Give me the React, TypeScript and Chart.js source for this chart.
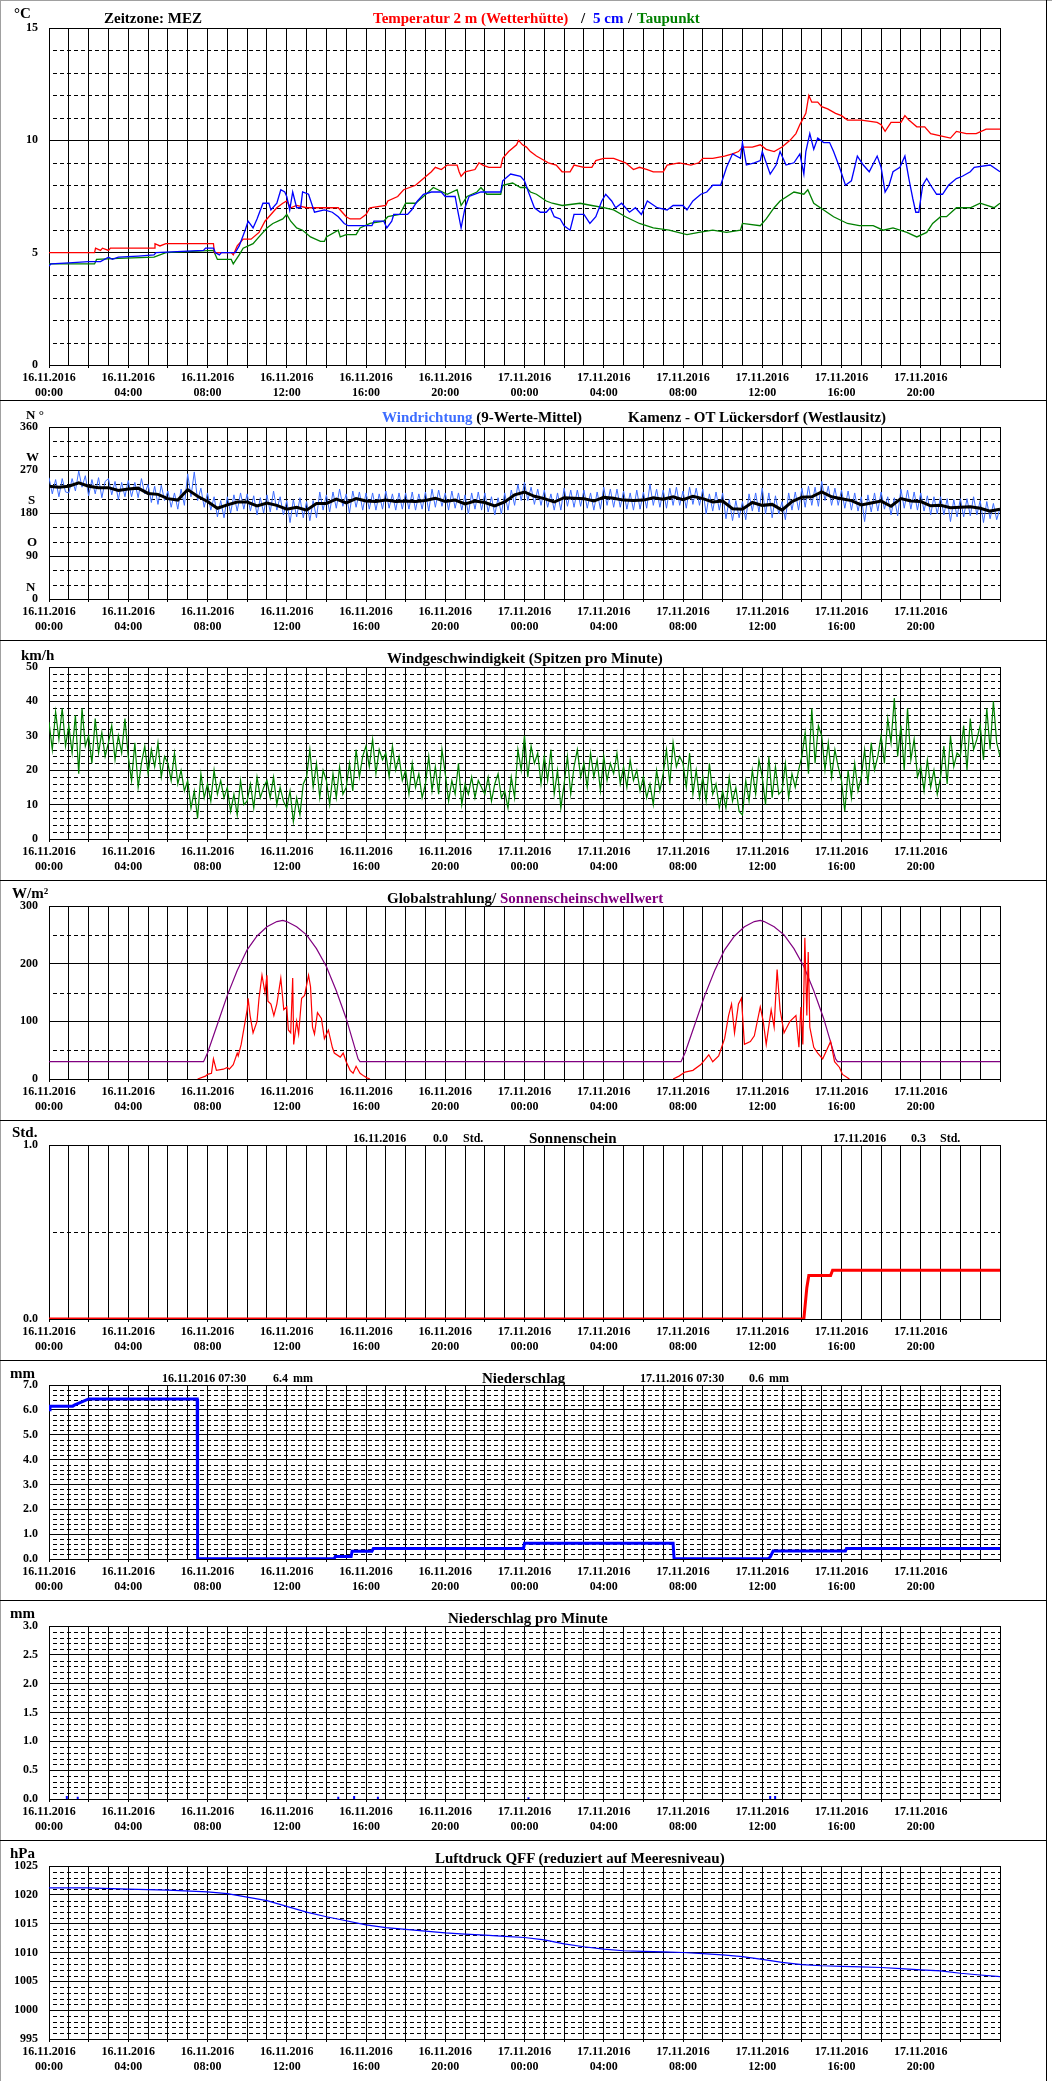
import React, { useEffect, useRef } from 'react';
import { Chart, registerables } from 'chart.js';

Chart.register(...registerables);

const FONT = "'Liberation Serif', 'Times New Roman', serif";

// ---------- time axis ----------
const DATE_LABELS = ['16.11.2016', '17.11.2016'];
const TIME_LABELS = ['00:00', '04:00', '08:00', '12:00', '16:00', '20:00'];

// ---------- temperature [hour, °C] ----------
const TEMP_2M: [number, number][] = [
  [0, 5.0], [2.3, 5.0], [2.35, 5.2], [2.6, 5.1], [2.7, 5.2], [3.0, 5.1], [3.1, 5.2], [5.3, 5.2], [5.35, 5.4], [5.6, 5.3], [5.9, 5.4],
  [8.3, 5.4], [8.35, 5.0], [9.2, 5.0], [9.3, 4.9], [9.5, 5.3], [9.8, 5.6], [10.2, 5.6], [10.6, 5.9], [10.9, 6.4], [11.2, 6.7],
  [11.5, 7.0], [11.8, 7.2], [12.0, 7.3], [12.2, 7.0], [12.5, 7.1], [13.0, 7.0], [14.6, 7.0], [14.8, 6.8], [15.0, 6.6], [15.2, 6.5],
  [15.7, 6.5], [16.0, 6.7], [16.2, 7.0], [17.0, 7.1], [17.1, 7.3], [17.6, 7.5], [17.9, 7.8], [18.5, 8.0], [18.9, 8.3], [19.3, 8.6],
  [19.5, 8.8], [19.8, 8.7], [20.1, 8.9], [20.6, 8.9], [20.7, 8.6], [20.8, 8.4], [21.0, 8.6], [21.5, 8.7], [21.7, 9.0], [21.9, 8.9],
  [22.2, 8.8], [22.8, 8.8], [22.9, 9.2], [23.2, 9.5], [23.6, 9.8], [23.7, 10.0], [23.9, 9.8], [24.1, 9.7], [24.3, 9.5], [24.6, 9.3],
  [25.0, 9.1], [25.2, 9.0], [25.6, 8.9], [25.9, 8.6], [26.3, 8.6], [26.5, 8.9], [27.0, 8.8], [27.4, 8.8], [27.6, 9.1], [28.0, 9.2],
  [28.5, 9.2], [29.1, 9.0], [29.5, 8.7], [29.8, 8.8], [30.2, 8.7], [30.5, 8.6], [31.0, 8.6], [31.2, 8.9], [31.8, 9.0], [32.4, 8.9],
  [32.8, 9.0], [33.0, 9.2], [33.5, 9.2], [34.1, 9.3], [34.5, 9.4], [34.8, 9.5], [35.0, 9.7], [35.5, 9.7], [35.9, 9.8], [36.2, 9.6],
  [36.6, 9.5], [37.0, 9.7], [37.4, 10.0], [37.7, 10.3], [37.9, 10.7], [38.2, 11.2], [38.35, 12.0], [38.5, 11.7], [38.8, 11.7],
  [39.0, 11.5], [39.3, 11.4], [39.7, 11.2], [40.0, 11.1], [40.3, 10.9], [41.0, 10.9], [41.8, 10.8], [42.0, 10.7], [42.2, 10.4],
  [42.5, 10.8], [43.0, 10.8], [43.2, 11.1], [43.4, 10.9], [43.8, 10.6], [44.2, 10.6], [44.5, 10.3], [45.0, 10.2], [45.5, 10.1],
  [45.8, 10.4], [46.3, 10.3], [46.8, 10.3], [47.3, 10.5], [47.6, 10.5], [48, 10.5],
];

const TEMP_5CM: [number, number][] = [
  [0, 4.4], [0.1, 4.5], [1.0, 4.55], [2.0, 4.6], [2.6, 4.6], [3.0, 4.8], [3.2, 4.7], [3.5, 4.8], [4.5, 4.85], [5.3, 4.9], [5.4, 5.0],
  [7.8, 5.1], [7.9, 5.2], [8.3, 5.2], [8.4, 5.0], [8.6, 4.9], [8.7, 5.0], [9.4, 5.0], [9.6, 5.3], [9.9, 6.0], [10.05, 6.4], [10.3, 6.1],
  [10.5, 6.5], [10.8, 7.2], [11.1, 7.2], [11.2, 6.9], [11.5, 7.2], [11.7, 7.8], [11.9, 7.7], [12.0, 7.5], [12.15, 6.9], [12.3, 7.7],
  [12.5, 7.0], [12.7, 7.0], [12.8, 7.7], [13.1, 7.6], [13.25, 7.2], [13.4, 6.8], [13.9, 6.9], [14.3, 6.8], [14.6, 6.6], [14.9, 6.3],
  [15.1, 6.2], [16.3, 6.2], [16.4, 6.4], [16.9, 6.4], [17.05, 6.1], [17.3, 6.4], [17.4, 6.7], [18.1, 6.7], [18.3, 6.9], [18.6, 7.3],
  [18.9, 7.6], [19.3, 7.7], [19.8, 7.7], [20.0, 7.5], [20.5, 7.5], [20.6, 7.0], [20.8, 6.1], [21.0, 7.0], [21.2, 7.5], [21.8, 7.7],
  [22.8, 7.7], [22.9, 8.2], [23.3, 8.5], [23.8, 8.4], [24.0, 8.2], [24.2, 7.7], [24.5, 7.0], [24.8, 6.8], [25.1, 6.8], [25.3, 7.0],
  [25.5, 6.6], [25.8, 6.5], [26.0, 6.2], [26.3, 6.0], [26.5, 6.7], [27.0, 6.7], [27.3, 6.3], [27.6, 6.6], [27.9, 7.3], [28.1, 7.6],
  [28.4, 7.3], [28.6, 7.0], [28.9, 7.2], [29.3, 6.8], [29.6, 7.0], [29.9, 6.7], [30.2, 7.3], [30.7, 7.0], [31.2, 6.9], [31.5, 7.1],
  [32.0, 7.1], [32.2, 6.9], [32.5, 7.3], [32.9, 7.6], [33.2, 7.7], [33.5, 8.0], [33.9, 8.0], [34.2, 8.8], [34.5, 9.4], [34.9, 9.2],
  [35.0, 9.9], [35.2, 8.9], [35.6, 9.0], [35.9, 9.1], [36.0, 9.5], [36.4, 8.5], [36.7, 8.9], [36.9, 9.5], [37.2, 8.9], [37.6, 9.0],
  [37.9, 9.4], [38.1, 8.5], [38.2, 9.5], [38.4, 10.3], [38.6, 9.6], [38.8, 10.1], [39.1, 9.9], [39.4, 9.9], [39.6, 9.5], [39.9, 8.8],
  [40.2, 8.0], [40.5, 8.2], [40.8, 9.3], [41.1, 8.9], [41.4, 8.6], [41.8, 9.3], [42.0, 8.8], [42.2, 7.7], [42.4, 8.0], [42.6, 8.6],
  [42.95, 8.8], [43.2, 9.3], [43.4, 8.3], [43.6, 7.4], [43.75, 6.8], [43.9, 6.8], [44.1, 8.0], [44.3, 8.3], [44.5, 8.0], [44.8, 7.6],
  [45.1, 7.6], [45.4, 8.0], [45.8, 8.3], [46.1, 8.4], [46.5, 8.6], [46.7, 8.8], [47.5, 8.9], [48, 8.6],
];

const DEW_POINT: [number, number][] = [
  [0, 4.5], [2.3, 4.5], [2.4, 4.7], [3.5, 4.75], [5.3, 4.8], [5.9, 5.0], [8.3, 5.1], [8.5, 4.7], [9.2, 4.7], [9.3, 4.5], [9.6, 4.9],
  [9.8, 5.2], [10.3, 5.4], [10.6, 5.7], [11.0, 6.1], [11.3, 6.3], [11.8, 6.5], [12.0, 6.7], [12.2, 6.4], [12.5, 6.1], [12.8, 6.0],
  [13.2, 5.7], [13.7, 5.5], [13.9, 5.5], [14.0, 5.7], [14.6, 6.0], [14.7, 5.7], [15.0, 5.8], [15.5, 5.8], [15.7, 6.1], [16.2, 6.3],
  [16.9, 6.4], [17.1, 6.6], [17.7, 6.7], [18.0, 7.2], [18.5, 7.2], [18.9, 7.5], [19.4, 7.9], [20.1, 7.6], [20.6, 7.8], [20.8, 7.1],
  [21.1, 7.5], [21.6, 7.7], [21.8, 7.9], [22.1, 7.6], [22.8, 7.6], [22.9, 8.0], [23.4, 8.1], [23.8, 7.9], [24.1, 7.9], [24.3, 7.7],
  [24.6, 7.6], [25.1, 7.3], [25.4, 7.2], [25.9, 7.1], [26.8, 7.2], [27.4, 7.1], [28.0, 7.0], [28.5, 6.9], [29.1, 6.6], [29.8, 6.3],
  [30.5, 6.1], [31.3, 6.0], [32.2, 5.8], [32.8, 5.9], [33.5, 6.0], [34.2, 5.9], [34.9, 6.0], [35.0, 6.3], [35.9, 6.2], [36.2, 6.5],
  [36.6, 7.0], [36.9, 7.3], [37.6, 7.7], [38.1, 7.6], [38.3, 7.8], [38.6, 7.2], [39.1, 6.9], [39.6, 6.6], [40.3, 6.3], [40.9, 6.2],
  [41.6, 6.2], [42.1, 6.0], [42.6, 6.1], [43.3, 5.9], [43.8, 5.7], [44.3, 5.9], [44.6, 6.3], [45.0, 6.6], [45.3, 6.6], [45.8, 7.0],
  [46.5, 7.0], [47.0, 7.2], [47.7, 7.0], [48, 7.2],
];

// ---------- wind direction (°) ----------
// raw values every 10 minutes
const WIND_DIR_RAW: number[] = [
  254, 220, 250, 214, 252, 224, 222, 252, 226, 268, 234, 258, 216, 250, 220, 254, 212, 246, 252, 218, 246, 208, 244, 214,
  248, 214, 244, 212, 252, 220, 240, 202, 236, 198, 238, 206, 226, 192, 222, 188, 230, 196, 262, 214, 266, 206, 232, 192,
  222, 186, 214, 172, 206, 170, 214, 180, 218, 184, 222, 188, 220, 184, 216, 176, 212, 180, 218, 182, 226, 186, 214, 176,
  206, 160, 208, 172, 212, 170, 204, 164, 206, 170, 224, 186, 218, 182, 224, 190, 230, 194, 220, 180, 226, 192, 224, 186,
  222, 188, 222, 186, 220, 188, 226, 190, 220, 186, 222, 188, 222, 188, 224, 186, 220, 188, 224, 184, 230, 192, 228, 194,
  222, 186, 226, 190, 222, 186, 218, 178, 222, 188, 224, 186, 222, 182, 214, 176, 212, 178, 222, 186, 228, 196, 240, 206,
  244, 206, 234, 198, 230, 196, 228, 192, 220, 186, 222, 186, 232, 194, 228, 192, 228, 194, 228, 190, 222, 186, 224, 188,
  234, 196, 230, 192, 230, 192, 226, 188, 222, 186, 228, 188, 224, 190, 240, 196, 230, 192, 228, 190, 232, 196, 234, 196,
  226, 190, 234, 198, 232, 196, 230, 178, 220, 184, 224, 186, 222, 168, 208, 164, 206, 170, 204, 166, 220, 184, 222, 182,
  232, 178, 222, 170, 216, 178, 204, 166, 222, 186, 224, 186, 232, 192, 236, 196, 234, 194, 246, 206, 236, 196, 232, 196,
  228, 190, 226, 186, 222, 184, 214, 162, 218, 182, 222, 184, 224, 188, 214, 176, 212, 174, 230, 190, 228, 188, 224, 186,
  222, 184, 216, 176, 214, 178, 214, 176, 210, 162, 208, 172, 210, 172, 210, 174, 214, 176, 206, 160, 204, 168, 200, 166,
  190,
];
// 9-value mean, every 30 minutes
const WIND_DIR_MEAN: number[] = [
  236, 234, 236, 243, 236, 233, 233, 227, 230, 232, 221, 219, 210, 207, 229, 215, 204, 190, 197, 203, 203, 195, 201, 196,
  188, 192, 186, 200, 200, 209, 201, 210, 205, 204, 207, 204, 205, 204, 206, 211, 204, 207, 199, 205, 202, 195, 203, 218,
  224, 215, 210, 203, 212, 211, 210, 205, 213, 211, 207, 206, 207, 212, 209, 214, 208, 215, 210, 203, 205, 189, 188, 202,
  196, 198, 186, 204, 213, 214, 224, 214, 210, 206, 197, 201, 205, 194, 210, 205, 204, 195, 196, 191, 192, 193, 190, 184,
  188,
];

// ---------- wind speed peaks (km/h), every 10 minutes ----------
const WIND_SPEED: number[] = [
  34, 26, 37, 29, 38, 27, 33, 25, 36, 19, 38, 27, 30, 22, 35, 25, 31, 24, 28, 33, 23, 30, 25, 35,
  24, 17, 28, 15, 22, 27, 19, 26, 21, 28, 18, 24, 22, 17, 25, 16, 20, 14, 17, 9, 14, 6, 19, 12,
  16, 11, 20, 13, 17, 12, 15, 8, 13, 7, 17, 10, 11, 16, 9, 18, 12, 15, 17, 12, 18, 10, 15, 11,
  9, 14, 5, 12, 7, 16, 18, 26, 15, 22, 12, 20, 17, 10, 19, 12, 21, 13, 15, 22, 14, 26, 18, 24,
  27, 21, 29, 19, 26, 23, 25, 18, 27, 20, 24, 17, 20, 13, 22, 15, 19, 12, 16, 24, 14, 21, 13, 26,
  19, 11, 17, 13, 22, 10, 16, 13, 18, 12, 17, 15, 13, 18, 11, 16, 19, 12, 14, 9, 18, 12, 26, 20,
  30, 18, 27, 22, 25, 16, 24, 17, 26, 13, 20, 9, 16, 24, 13, 21, 26, 18, 22, 15, 25, 18, 23, 14,
  24, 17, 22, 19, 25, 16, 21, 15, 23, 17, 20, 14, 18, 12, 16, 10, 20, 14, 19, 26, 16, 28, 21, 24,
  22, 15, 25, 13, 20, 12, 18, 11, 22, 13, 16, 9, 14, 9, 18, 11, 15, 8, 7, 17, 11, 20, 13, 23,
  18, 10, 24, 12, 21, 13, 14, 22, 12, 19, 15, 20, 24, 31, 19, 38, 22, 33, 30, 20, 28, 18, 26, 21,
  17, 8, 20, 12, 22, 14, 18, 26, 16, 28, 20, 24, 30, 22, 35, 28, 41, 24, 33, 20, 38, 23, 29, 18,
  21, 14, 23, 15, 20, 13, 18, 27, 16, 30, 21, 25, 24, 33, 20, 35, 26, 29, 33, 23, 38, 26, 40, 28,
  24,
];

// ---------- global radiation (W/m²) [hour, value] ----------
const GLOBAL_RAD: [number, number | null][] = [
  [7.5, 0], [7.9, 5], [8.0, 8], [8.2, 10], [8.3, 35], [8.45, 15], [8.8, 17], [9.0, 20], [9.1, 17], [9.3, 25], [9.5, 45], [9.55, 40],
  [9.7, 60], [9.9, 100], [10.0, 120], [10.05, 140], [10.15, 110], [10.3, 80], [10.5, 100], [10.6, 140], [10.75, 180], [10.9, 150],
  [11.0, 180], [11.05, 135], [11.2, 130], [11.35, 110], [11.5, 130], [11.7, 175], [11.85, 120], [12.0, 125], [12.08, 85], [12.2, 80],
  [12.3, 175], [12.35, 60], [12.5, 100], [12.6, 78], [12.7, 120], [12.75, 140], [12.9, 145], [13.1, 180], [13.2, 160], [13.3, 90],
  [13.4, 78], [13.55, 115], [13.75, 105], [13.9, 70], [14.1, 85], [14.3, 55], [14.4, 45], [14.7, 38], [14.85, 45], [15.0, 30],
  [15.2, 15], [15.35, 10], [15.5, 22], [15.7, 10], [15.9, 5], [16.05, 2], [16.2, 0], [16.3, null],
  [31.5, 0], [31.8, 5], [32.1, 12], [32.5, 15], [32.9, 25], [33.3, 42], [33.5, 30], [33.8, 40], [34.1, 70], [34.3, 110], [34.45, 130],
  [34.6, 80], [34.8, 130], [34.95, 140], [35.1, 60], [35.4, 65], [35.6, 75], [35.9, 125], [36.05, 100], [36.2, 60], [36.45, 120],
  [36.6, 90], [36.75, 190], [36.9, 120], [37.1, 80], [37.4, 100], [37.7, 110], [37.85, 55], [37.95, 125], [38.05, 60], [38.15, 245],
  [38.25, 110], [38.32, 220], [38.4, 90], [38.6, 55], [38.8, 45], [39.05, 35], [39.25, 50], [39.45, 65], [39.65, 30], [39.9, 20],
  [40.05, 8], [40.4, 0],
];

const SUN_THRESHOLD: [number, number][] = [
  [0, 30], [7.8, 30], [8.0, 45], [8.5, 95], [9.0, 145], [9.5, 188], [10.0, 224], [10.5, 248], [11.0, 264], [11.5, 273], [11.8, 275],
  [12.0, 273], [12.5, 264], [13.0, 250], [13.5, 226], [14.0, 195], [14.5, 153], [15.0, 105], [15.3, 70], [15.6, 35], [15.7, 30],
  [31.9, 30], [32.1, 45], [32.6, 95], [33.1, 145], [33.6, 188], [34.1, 224], [34.6, 248], [35.1, 264], [35.6, 273], [35.9, 275],
  [36.1, 273], [36.6, 264], [37.1, 250], [37.6, 226], [38.1, 195], [38.6, 153], [39.1, 105], [39.4, 70], [39.7, 35], [39.8, 30],
  [48, 30],
];

// ---------- sunshine duration (h) ----------
const SUNSHINE: [number, number][] = [
  [0, 0], [38.1, 0], [38.25, 0.18], [38.35, 0.25], [39.45, 0.25], [39.55, 0.28], [48, 0.28],
];

// ---------- precipitation (mm), accumulated since 07:30 ----------
const PRECIP: [number, number][] = [
  [0, 6.0], [0.05, 6.15], [1.2, 6.15], [1.3, 6.2], [1.6, 6.3], [2.0, 6.44], [7.48, 6.44], [7.5, 0.01], [14.4, 0.01], [14.45, 0.1],
  [15.25, 0.1], [15.3, 0.31], [16.3, 0.31], [16.37, 0.42], [23.95, 0.42], [24.0, 0.63], [31.5, 0.63], [31.55, 0.01], [36.3, 0.01],
  [36.4, 0.08], [36.55, 0.32], [40.2, 0.32], [40.25, 0.42], [48, 0.42],
];

// ---------- precipitation per minute (mm) ----------
const PRECIP_MIN_HOURS: number[] = [0.9, 1.45, 14.6, 15.4, 16.6, 24.2, 36.4, 36.65];
const PRECIP_MIN_VALUES: number[] = [0.05, 0.04, 0.04, 0.05, 0.04, 0.03, 0.05, 0.05];

// ---------- air pressure QFF (hPa) ----------
const PRESSURE: [number, number][] = [
  [0, 1021.2], [2, 1021.2], [4, 1021.0], [6, 1020.8], [8, 1020.5], [9, 1020.2], [10, 1019.6], [11, 1019.0], [12, 1018.0],
  [13, 1017.0], [14, 1016.2], [15, 1015.5], [16, 1014.8], [17, 1014.3], [18, 1014.0], [19, 1013.7], [20, 1013.4], [21, 1013.2],
  [22, 1013.0], [23, 1012.8], [24, 1012.6], [25, 1012.2], [26, 1011.5], [27, 1011.0], [28, 1010.6], [29, 1010.3], [30, 1010.2],
  [31, 1010.1], [32, 1010.0], [33, 1009.8], [34, 1009.6], [35, 1009.3], [36, 1008.8], [37, 1008.3], [38, 1007.9], [39, 1007.7],
  [40, 1007.6], [41, 1007.5], [42, 1007.4], [43, 1007.2], [44, 1007.0], [45, 1006.8], [46, 1006.4], [47, 1006.1], [48, 1005.8],
];

// ---------- helpers ----------
const xy = (pairs: [number, number | null][]) => pairs.map(([x, y]) => ({ x, y }));
const every = (values: number[], stepH: number) => values.map((v, i) => ({ x: i * stepH, y: v }));
const spikes = (hours: number[], vals: number[]) => {
  const out: any[] = [];
  hours.forEach((h, i) => {
    out.push({ x: h, y: 0 }, { x: h, y: vals[i] }, { x: h, y: null });
  });
  return out;
};

const minorGrid = {
  id: 'minorGrid',
  beforeDatasetsDraw(chart: any, _a: any, opts: any) {
    if (!opts || !opts.step) return;
    const y = chart.scales.y;
    const { left, right } = chart.chartArea;
    const ctx = chart.ctx;
    ctx.save();
    ctx.strokeStyle = '#000';
    ctx.lineWidth = 1;
    ctx.setLineDash([4, 3]);
    const n = Math.round((y.max - y.min) / opts.step);
    for (let i = 1; i < n; i++) {
      const v = y.min + i * opts.step;
      const r = v / opts.major;
      if (Math.abs(r - Math.round(r)) < 1e-6) continue;
      const py = Math.round(y.getPixelForValue(v)) + 0.5;
      ctx.beginPath();
      ctx.moveTo(left + 4, py);
      ctx.lineTo(right, py);
      ctx.stroke();
    }
    ctx.restore();
  },
};

type PanelProps = {
  top: number;
  height: number;
  plotTop: number;
  axisH: number;
  yMin: number;
  yMax: number;
  major: number;
  minor: number;
  decimals: number;
  datasets: any[];
};

function Panel(p: PanelProps) {
  const ref = useRef<HTMLCanvasElement | null>(null);
  useEffect(() => {
    const chart = new Chart(ref.current as HTMLCanvasElement, {
      type: 'line',
      data: {
        datasets: p.datasets.map((d) => ({
          pointRadius: 0,
          tension: 0,
          fill: false,
          borderWidth: 1.3,
          spanGaps: false,
          ...d,
        })),
      },
      options: {
        animation: false,
        responsive: false,
        maintainAspectRatio: false,
        devicePixelRatio: 1,
        events: [],
        layout: { padding: { left: 0, right: 52, top: p.plotTop, bottom: 0 } },
        plugins: {
          legend: { display: false },
          tooltip: { enabled: false },
          minorGrid: { step: p.minor, major: p.major },
        } as any,
        scales: {
          x: {
            type: 'linear',
            min: 0,
            max: 48,
            ticks: {
              stepSize: 1,
              autoSkip: false,
              maxRotation: 0,
              minRotation: 0,
              padding: 3,
              color: '#000',
              font: { family: FONT, size: 12, weight: 'bold', lineHeight: 1.2 },
              callback: (value: any) => {
                const v = Math.round(Number(value));
                if (v % 4 !== 0 || v >= 48) return '';
                return [DATE_LABELS[Math.floor(v / 24)], TIME_LABELS[(v % 24) / 4]];
              },
            },
            grid: {
              color: '#000',
              lineWidth: 1,
              tickLength: 3,
              tickColor: (ctx: any) =>
                ctx.tick && Math.round(ctx.tick.value) % 2 === 0 ? '#000' : 'rgba(0,0,0,0)',
            },
            border: { color: '#000', width: 1 },
            afterFit: (s: any) => {
              s.height = p.axisH;
            },
          },
          y: {
            type: 'linear',
            min: p.yMin,
            max: p.yMax,
            ticks: {
              stepSize: p.major,
              padding: 11,
              color: '#000',
              font: { family: FONT, size: 12, weight: 'bold' },
              callback: (value: any) => Number(value).toFixed(p.decimals),
            },
            grid: { color: '#000', lineWidth: 1, drawTicks: false },
            border: { color: '#000', width: 1 },
            afterFit: (s: any) => {
              s.width = 49;
            },
          },
        },
      } as any,
      plugins: [minorGrid],
    });
    return () => chart.destroy();
  }, []);
  return (
    <canvas
      ref={ref}
      width={1052}
      height={p.height}
      style={{ position: 'absolute', left: 0, top: p.top, width: 1052, height: p.height, display: 'block' }}
    />
  );
}

function T(props: { x: number; y: number; color?: string; size?: number; children: any }) {
  const size = props.size ?? 15;
  return (
    <div
      style={{
        position: 'absolute',
        left: props.x,
        top: props.y - 10,
        height: 20,
        lineHeight: '20px',
        fontFamily: FONT,
        fontSize: size,
        fontWeight: 'bold',
        color: props.color ?? '#000',
        whiteSpace: 'pre',
        zIndex: 2,
      }}
    >
      {props.children}
    </div>
  );
}

const SEPARATORS = [400, 640, 880, 1120, 1360, 1600, 1840];

export default function App() {
  const P = 240;
  const base = (i: number) => 400 + (i - 1) * P;
  return (
    <div style={{ position: 'absolute', left: 0, top: 0, width: 1052, height: 2081, background: '#fff', overflow: 'hidden' }}>
      {/* 1 temperature */}
      <Panel
        top={0} height={400} plotTop={28} axisH={35}
        yMin={0} yMax={15} major={5} minor={1} decimals={0}
        datasets={[
          { data: xy(TEMP_5CM), borderColor: '#0000ff' },
          { data: xy(TEMP_2M), borderColor: '#ff0000' },
          { data: xy(DEW_POINT), borderColor: '#008000' },
        ]}
      />
      {/* 2 wind direction */}
      <Panel
        top={base(1)} height={P} plotTop={27} axisH={41}
        yMin={0} yMax={360} major={90} minor={30} decimals={0}
        datasets={[
          { data: every(WIND_DIR_MEAN, 0.5), borderColor: '#000000', borderWidth: 3 },
          { data: every(WIND_DIR_RAW, 1 / 6), borderColor: '#3d6dff', borderWidth: 1 },
        ]}
      />
      {/* 3 wind speed */}
      <Panel
        top={base(2)} height={P} plotTop={27} axisH={41}
        yMin={0} yMax={50} major={10} minor={2} decimals={0}
        datasets={[{ data: every(WIND_SPEED, 1 / 6), borderColor: '#008000', borderWidth: 1.2 }]}
      />
      {/* 4 global radiation */}
      <Panel
        top={base(3)} height={P} plotTop={26} axisH={41}
        yMin={0} yMax={300} major={100} minor={50} decimals={0}
        datasets={[
          { data: xy(GLOBAL_RAD), borderColor: '#ff0000', borderWidth: 1.2 },
          { data: xy(SUN_THRESHOLD), borderColor: '#800080', borderWidth: 1.2 },
        ]}
      />
      {/* 5 sunshine */}
      <Panel
        top={base(4)} height={P} plotTop={25} axisH={41}
        yMin={0} yMax={1} major={1} minor={0.5} decimals={1}
        datasets={[{ data: xy(SUNSHINE), borderColor: '#ff0000', borderWidth: 3 }]}
      />
      {/* 6 precipitation */}
      <Panel
        top={base(5)} height={P} plotTop={25} axisH={41}
        yMin={0} yMax={7} major={1} minor={0.2} decimals={1}
        datasets={[{ data: xy(PRECIP), borderColor: '#0000ff', borderWidth: 3 }]}
      />
      {/* 7 precipitation per minute */}
      <Panel
        top={base(6)} height={P} plotTop={26} axisH={41}
        yMin={0} yMax={3} major={0.5} minor={0.1} decimals={1}
        datasets={[{ data: spikes(PRECIP_MIN_HOURS, PRECIP_MIN_VALUES), borderColor: '#0000ff', borderWidth: 2 }]}
      />
      {/* 8 pressure */}
      <Panel
        top={base(7)} height={P} plotTop={26} axisH={41}
        yMin={995} yMax={1025} major={5} minor={1} decimals={0}
        datasets={[{ data: xy(PRESSURE), borderColor: '#0000ff', borderWidth: 1.2 }]}
      />

      {/* frame */}
      <div style={{ position: 'absolute', left: 0, top: 0, width: 1052, height: 1, background: '#a0a0a0', zIndex: 3 }} />
      <div style={{ position: 'absolute', left: 0, top: 0, width: 1, height: 2081, background: '#a0a0a0', zIndex: 3 }} />
      <div style={{ position: 'absolute', left: 1046, top: 0, width: 1, height: 2081, background: '#000', zIndex: 3 }} />
      {SEPARATORS.map((y) => (
        <div key={y} style={{ position: 'absolute', left: 0, top: y, width: 1047, height: 1, background: '#000', zIndex: 3 }} />
      ))}

      {/* panel 1 texts */}
      <T x={14} y={13}>°C</T>
      <T x={104} y={18}>Zeitzone: MEZ</T>
      <T x={373} y={18} color="#ff0000">Temperatur 2 m (Wetterhütte)</T>
      <T x={581} y={18}>/</T>
      <T x={593} y={18} color="#0000ff">5 cm</T>
      <T x={628} y={18}>/</T>
      <T x={637} y={18} color="#008000">Taupunkt</T>

      {/* panel 2 texts */}
      <T x={26} y={415} size={13}>N °</T>
      <T x={26} y={457} size={13}>W</T>
      <T x={28} y={500} size={13}>S</T>
      <T x={27} y={542} size={13}>O</T>
      <T x={26} y={587} size={13}>N</T>
      <T x={382} y={417}>
        <span style={{ color: '#3d6dff' }}>Windrichtung</span> (9-Werte-Mittel)
      </T>
      <T x={628} y={417}>Kamenz - OT Lückersdorf (Westlausitz)</T>

      {/* panel 3 texts */}
      <T x={21} y={655}>km/h</T>
      <T x={387} y={658}>Windgeschwindigkeit (Spitzen pro Minute)</T>

      {/* panel 4 texts */}
      <T x={12} y={893}>W/m²</T>
      <T x={387} y={898}>
        Globalstrahlung/ <span style={{ color: '#800080' }}>Sonnenscheinschwellwert</span>
      </T>

      {/* panel 5 texts */}
      <T x={12} y={1132}>Std.</T>
      <T x={353} y={1138} size={12}>16.11.2016</T>
      <T x={433} y={1138} size={12}>0.0</T>
      <T x={463} y={1138} size={12}>Std.</T>
      <T x={529} y={1138}>Sonnenschein</T>
      <T x={833} y={1138} size={12}>17.11.2016</T>
      <T x={911} y={1138} size={12}>0.3</T>
      <T x={940} y={1138} size={12}>Std.</T>

      {/* panel 6 texts */}
      <T x={10} y={1373}>mm</T>
      <T x={162} y={1378} size={12}>16.11.2016 07:30</T>
      <T x={273} y={1378} size={12}>6.4</T>
      <T x={293} y={1378} size={12}>mm</T>
      <T x={482} y={1378}>Niederschlag</T>
      <T x={640} y={1378} size={12}>17.11.2016 07:30</T>
      <T x={749} y={1378} size={12}>0.6</T>
      <T x={769} y={1378} size={12}>mm</T>

      {/* panel 7 texts */}
      <T x={10} y={1613}>mm</T>
      <T x={448} y={1618}>Niederschlag pro Minute</T>

      {/* panel 8 texts */}
      <T x={10} y={1853}>hPa</T>
      <T x={435} y={1858}>Luftdruck QFF (reduziert auf Meeresniveau)</T>
    </div>
  );
}
